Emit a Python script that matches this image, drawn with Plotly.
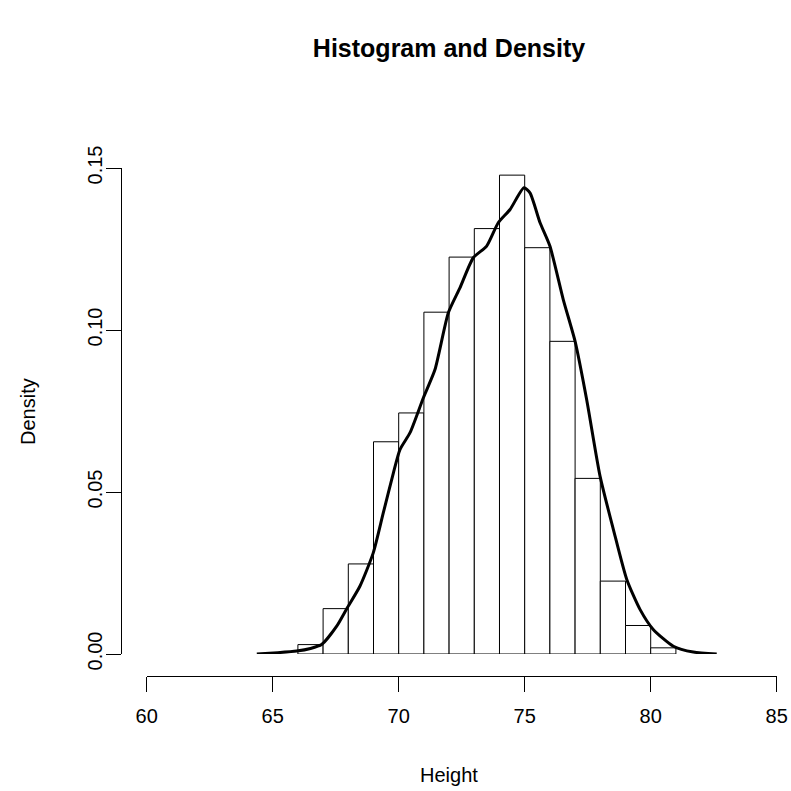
import plotly.graph_objects as go

# Histogram bins (left edges) and densities
bin_left = [66, 67, 68, 69, 70, 71, 72, 73, 74, 75, 76, 77, 78, 79, 80]
bin_density = [0.0029, 0.0140, 0.0278, 0.0655, 0.0744, 0.1055, 0.1225, 0.1313,
               0.1478, 0.1254, 0.0965, 0.0542, 0.0225, 0.0088, 0.0019]

# Kernel density curve points
dens_x = [64.37, 65.2, 65.95, 66.5, 66.94, 67.54, 67.94, 68.46, 68.99, 69.39, 69.79,
          70.05, 70.45, 70.98, 71.44, 71.97, 72.43, 72.96, 73.49, 73.95, 74.42,
          74.97, 75.21, 75.61, 76.0, 76.53, 77.0, 77.46, 77.99, 78.52, 79.05,
          79.58, 80.1, 80.9, 81.69, 82.62]
dens_y = [0.0000, 0.0004, 0.0009, 0.0017, 0.0029, 0.0086, 0.0140, 0.0209, 0.0312,
          0.0436, 0.0559, 0.0631, 0.0683, 0.0791, 0.0878, 0.1053, 0.1130, 0.1223,
          0.1259, 0.1331, 0.1372, 0.1439, 0.1423, 0.1331, 0.1259, 0.1094, 0.0965,
          0.0785, 0.0549, 0.0384, 0.0230, 0.0137, 0.0076, 0.0024, 0.0006, 0.0000]

x_ticks = [60, 65, 70, 75, 80, 85]
y_ticks = [0.00, 0.05, 0.10, 0.15]
y_tick_text = ["0.00", "0.05", "0.10", "0.15"]

W = H = 791
FONT = "Liberation Sans, Arial, sans-serif"

centers = [b + 0.5 for b in bin_left]

fig = go.Figure()
fig.add_trace(go.Bar(
    x=centers, y=bin_density, width=1,
    marker=dict(color="white", line=dict(color="black", width=1)),
    cliponaxis=False, hoverinfo="skip",
))
fig.add_trace(go.Scatter(
    x=dens_x, y=dens_y, mode="lines",
    line=dict(color="black", width=3, shape="spline", smoothing=0.6),
    cliponaxis=False, hoverinfo="skip",
))

x_left, x_right = 146.7, 776.7
y_zero, y_top = 654.0, 168.0

fig.update_layout(
    width=W, height=H,
    margin=dict(l=0, r=0, t=0, b=0),
    paper_bgcolor="white", plot_bgcolor="white",
    showlegend=False,
    font=dict(family=FONT, size=20, color="black"),
    title=dict(text="<b>Histogram and Density</b>", x=449 / W, xanchor="center",
               y=1 - 48 / H, yanchor="middle", yref="container",
               font=dict(family=FONT, size=25, color="black")),
    xaxis=dict(
        domain=[x_left / W, x_right / W], range=[60, 85],
        anchor="free", position=(H - 675.7) / H,
        showline=True, linecolor="black", linewidth=1,
        ticks="outside", ticklen=15, tickwidth=1, tickcolor="black",
        tickvals=x_ticks, showgrid=False, zeroline=False,
        tickfont=dict(size=20), automargin=False, ticklabelstandoff=7,
    ),
    yaxis=dict(
        domain=[(H - y_zero) / H, (H - y_top) / H], range=[0, 0.15],
        anchor="free", position=121 / W,
        showline=True, linecolor="black", linewidth=1,
        ticks="outside", ticklen=15, tickwidth=1, tickcolor="black",
        tickvals=y_ticks, ticktext=y_tick_text, tickangle=-90,
        showgrid=False, zeroline=False,
        tickfont=dict(size=20), automargin=False, ticklabelstandoff=-4,
    ),
    annotations=[
        dict(text="Height", x=449 / W, y=1 - 775 / H, xref="paper", yref="paper",
             xanchor="center", yanchor="middle", showarrow=False,
             font=dict(family=FONT, size=20)),
        dict(text="Density", x=28 / W, y=1 - 412 / H, xref="paper", yref="paper",
             xanchor="center", yanchor="middle", showarrow=False, textangle=-90,
             font=dict(family=FONT, size=20)),
    ],
)

fig.write_html("out.html")
